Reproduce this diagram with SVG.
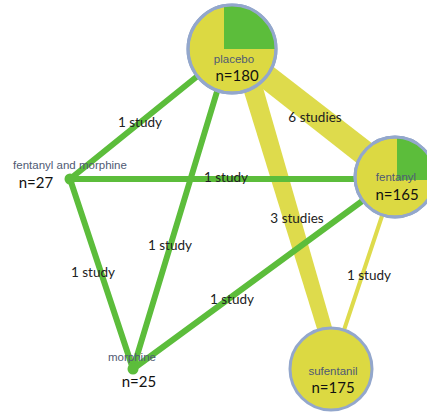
<svg xmlns="http://www.w3.org/2000/svg" width="427" height="412" viewBox="0 0 427 412">
<style>
.g{stroke:#5cbd3b;stroke-width:6;stroke-linecap:round;fill:none}
.y{fill:#dedb4c}
.yl{stroke:#dedb4c;fill:none}
.node{fill:#dcd942;stroke:#93a7cc;stroke-width:3}
.wedge{fill:#5cbd3b}
.dot{fill:#5cbd3b}
.lbl{font-family:Lato,"Open Sans",sans-serif;font-size:13.5px;fill:#222;text-anchor:middle}
.nm{font-family:"Liberation Sans",Arial,sans-serif;font-size:11.5px;fill:#4f5a74;text-anchor:middle}
.nn{font-family:Lato,"Open Sans",sans-serif;font-size:15px;fill:#111;text-anchor:middle}
</style>
<defs>
<clipPath id="cp"><circle cx="232" cy="49" r="44"/></clipPath>
<clipPath id="cf"><circle cx="395" cy="177" r="40"/></clipPath>
</defs>
<rect width="427" height="412" fill="#ffffff"/>
<g id="connectors">
<polygon class="y" points="231,34 395,161 395,193 231,64"/>
<polygon class="y" points="231,50 251,46 344,369 330,371"/>
<line class="yl" x1="395" y1="177" x2="331" y2="369" stroke-width="4"/>
<line class="g" x1="70" y1="179" x2="231" y2="49"/>
<line class="g" x1="70" y1="179" x2="395" y2="179"/>
<line class="g" x1="70" y1="179" x2="133" y2="369"/>
<line class="g" x1="133" y1="369" x2="229" y2="52"/>
<line class="g" x1="133" y1="369" x2="395" y2="177"/>
<text class="lbl" x="140" y="127">1 study</text>
<text class="lbl" x="315" y="122">6 studies</text>
<text class="lbl" x="226" y="182">1 study</text>
<text class="lbl" x="297" y="223">3 studies</text>
<text class="lbl" x="170" y="250">1 study</text>
<text class="lbl" x="93" y="277">1 study</text>
<text class="lbl" x="232" y="304">1 study</text>
<text class="lbl" x="369" y="280">1 study</text>
</g>
<g id="placebo">
<circle class="node" cx="232" cy="49" r="44"/>
<rect class="wedge" x="224" y="0" width="60" height="49" clip-path="url(#cp)"/>
<circle cx="232" cy="49" r="44" fill="none" stroke="#93a7cc" stroke-width="3"/>
<text class="nm" x="234" y="63">placebo</text>
<text class="nn" x="237" y="81">n=180</text>
</g>
<g id="fentanyl">
<circle class="node" cx="395" cy="177" r="40"/>
<rect class="wedge" x="397" y="130" width="40" height="50" clip-path="url(#cf)"/>
<circle cx="395" cy="177" r="40" fill="none" stroke="#93a7cc" stroke-width="3"/>
<text class="nm" x="396" y="181">fentanyl</text>
<text class="nn" x="397" y="200">n=165</text>
</g>
<g id="sufentanil">
<circle class="node" cx="331" cy="369" r="41"/>
<text class="nm" x="333" y="375">sufentanil</text>
<text class="nn" x="333" y="393">n=175</text>
</g>
<g id="fentanyl-and-morphine">
<circle class="dot" cx="70" cy="179" r="5.5"/>
<text class="nm" x="70" y="169">fentanyl and morphine</text>
<text class="nn" x="36" y="188">n=27</text>
</g>
<g id="morphine">
<circle class="dot" cx="133" cy="369" r="5.5"/>
<text class="nm" x="132" y="361">morphine</text>
<text class="nn" x="139" y="387">n=25</text>
</g>
</svg>
